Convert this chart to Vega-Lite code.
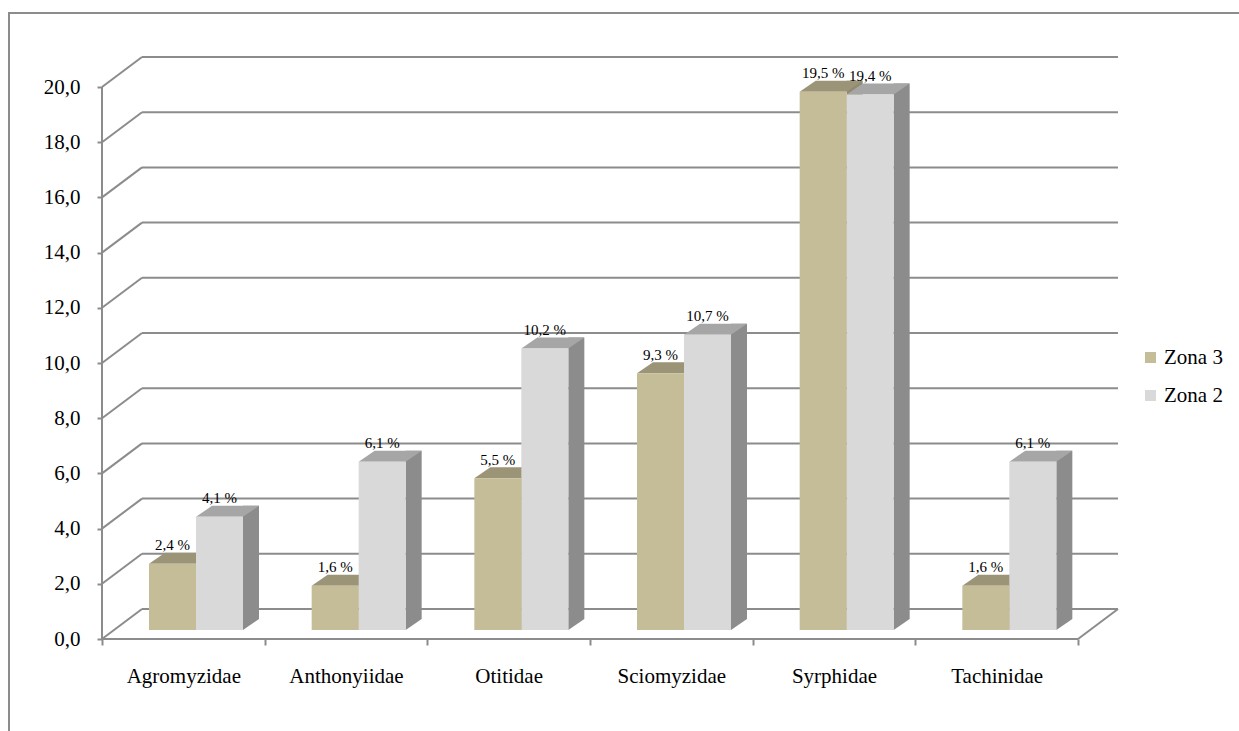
{
  "$schema": "https://vega.github.io/schema/vega-lite/v6.json",
  "width": 1230,
  "height": 718,
  "autosize": {"type": "none"},
  "padding": {"left": 9, "top": 13, "right": 0, "bottom": 0},
  "background": "white",
  "datasets": {
    "bars": [
      {"fam": "Agromyzidae", "zona": "Zona 2", "v": 4.1},
      {"fam": "Anthonyiidae", "zona": "Zona 2", "v": 6.1},
      {"fam": "Otitidae", "zona": "Zona 2", "v": 10.2},
      {"fam": "Sciomyzidae", "zona": "Zona 2", "v": 10.7},
      {"fam": "Syrphidae", "zona": "Zona 2", "v": 19.4},
      {"fam": "Tachinidae", "zona": "Zona 2", "v": 6.1},
      {"fam": "Agromyzidae", "zona": "Zona 3", "v": 2.4},
      {"fam": "Anthonyiidae", "zona": "Zona 3", "v": 1.6},
      {"fam": "Otitidae", "zona": "Zona 3", "v": 5.5},
      {"fam": "Sciomyzidae", "zona": "Zona 3", "v": 9.3},
      {"fam": "Syrphidae", "zona": "Zona 3", "v": 19.5},
      {"fam": "Tachinidae", "zona": "Zona 3", "v": 1.6}
    ],
    "grid": [
      {"g": 0}, {"g": 2}, {"g": 4}, {"g": 6}, {"g": 8}, {"g": 10},
      {"g": 12}, {"g": 14}, {"g": 16}, {"g": 18}, {"g": 20}
    ]
  },
  "layer": [
    {
      "data": {"name": "grid"},
      "mark": {"type": "rule", "color": "#8c8c8c", "strokeWidth": 2, "xOffset": 40, "x2Offset": 40, "yOffset": -30},
      "encoding": {
        "x": {"datum": "Agromyzidae", "type": "nominal", "bandPosition": 0,
              "scale": {"domain": ["Agromyzidae", "Anthonyiidae", "Otitidae", "Sciomyzidae", "Syrphidae", "Tachinidae"], "paddingInner": 0, "paddingOuter": 0.78074, "align": 0.36614},
              "axis": {"orient": "bottom", "offset": -92, "title": null, "domain": false, "tickBand": "extent", "ticks": true, "tickSize": 6, "tickWidth": 2, "tickColor": "#8c8c8c", "labelAngle": 0, "labelFont": "Liberation Serif, Times New Roman, serif", "labelFontSize": 21, "labelColor": "#000000", "labelPadding": 20, "grid": false}},
        "x2": {"datum": "Tachinidae", "bandPosition": 1},
        "y": {"field": "g", "type": "quantitative",
              "scale": {"domain": [-3.3333, 22.6812], "nice": false, "zero": false},
              "axis": {"title": null, "values": [0, 2, 4, 6, 8, 10, 12, 14, 16, 18, 20], "labelExpr": "replace(format(datum.value, '.1f'), '.', ',')", "offset": -93, "domain": false, "grid": false, "tickSize": 5, "tickWidth": 2, "tickColor": "#8c8c8c", "labelFont": "Liberation Serif, Times New Roman, serif", "labelFontSize": 21, "labelColor": "#000000", "labelPadding": 17}}
      }
    },
    {
      "data": {"name": "grid"},
      "mark": {"type": "rule", "color": "#8c8c8c", "strokeWidth": 2, "x2Offset": 40, "y2Offset": -30},
      "encoding": {
        "x": {"datum": "Agromyzidae", "type": "nominal", "bandPosition": 0},
        "x2": {"datum": "Agromyzidae", "bandPosition": 0},
        "y": {"field": "g", "type": "quantitative"},
        "y2": {"field": "g"}
      }
    },
    {
      "data": {"name": "grid"},
      "transform": [{"filter": "datum.g == 0"}],
      "mark": {"type": "rule", "color": "#8c8c8c", "strokeWidth": 2, "x2Offset": 40, "y2Offset": -30},
      "encoding": {
        "x": {"datum": "Tachinidae", "type": "nominal", "bandPosition": 1},
        "x2": {"datum": "Tachinidae", "bandPosition": 1},
        "y": {"field": "g", "type": "quantitative"},
        "y2": {"field": "g"}
      }
    },
    {
      "data": {"name": "grid"},
      "transform": [{"filter": "datum.g == 0"}],
      "mark": {"type": "rule", "color": "#8c8c8c", "strokeWidth": 2},
      "encoding": {
        "x": {"datum": "Agromyzidae", "type": "nominal", "bandPosition": 0},
        "x2": {"datum": "Tachinidae", "bandPosition": 1},
        "y": {"field": "g", "type": "quantitative"}
      }
    },
    {
      "data": {"name": "grid"},
      "transform": [{"filter": "datum.g == 0"}],
      "mark": {"type": "rule", "color": "#8c8c8c", "strokeWidth": 2},
      "encoding": {
        "x": {"datum": "Agromyzidae", "type": "nominal", "bandPosition": 0},
        "y": {"field": "g", "type": "quantitative"},
        "y2": {"datum": 20}
      }
    },
    {
      "data": {"name": "bars"},
      "transform": [{"filter": "datum.zona === 'Zona 2'"}],
      "mark": {"type": "bar", "width": 16, "xOffset": 67.67, "yOffset": -20, "y2Offset": -20, "strokeWidth": 0, "fill": "#8c8c8c"},
      "encoding": {
        "x": {"field": "fam", "type": "nominal"},
        "y": {"field": "v", "type": "quantitative"},
        "y2": {"datum": 0}
      }
    },
    {
      "data": {"name": "bars"},
      "transform": [{"filter": "datum.zona === 'Zona 3'"}],
      "mark": {"type": "bar", "width": 16, "xOffset": 20.67, "yOffset": -20, "y2Offset": -20, "strokeWidth": 0, "fill": "#8f8a6e"},
      "encoding": {
        "x": {"field": "fam", "type": "nominal"},
        "y": {"field": "v", "type": "quantitative"},
        "y2": {"datum": 0}
      }
    },
    {
      "data": {"name": "bars"},
      "mark": {"type": "point", "shape": "M1.46875,0L1.46875,-0.6875L2.46875,-0.6875Z", "size": 1024, "filled": true, "opacity": 1, "strokeWidth": 0, "yOffset": -9},
      "encoding": {
        "x": {"field": "fam", "type": "nominal"},
        "xOffset": {"field": "zona", "type": "nominal", "scale": {"domain": ["Zona 3", "Zona 2"], "paddingInner": 0, "paddingOuter": 0.7305, "align": 0.6845}},
        "y": {"datum": 0, "type": "quantitative"},
        "fill": {"condition": {"test": "datum.zona === 'Zona 3'", "value": "#8f8a6e"}, "value": "#8c8c8c"}
      }
    },
    {
      "data": {"name": "bars"},
      "mark": {"type": "point", "shape": "M-1.46875,0L1.46875,0L2.46875,-0.6875L-0.46875,-0.6875Z", "size": 1024, "filled": true, "opacity": 1, "strokeWidth": 0, "yOffset": -9},
      "encoding": {
        "x": {"field": "fam", "type": "nominal"},
        "xOffset": {"field": "zona", "type": "nominal"},
        "y": {"field": "v", "type": "quantitative"},
        "fill": {"condition": {"test": "datum.zona === 'Zona 3'", "value": "#9b9477"}, "value": "#a6a6a6"}
      }
    },
    {
      "data": {"name": "bars"},
      "mark": {"type": "bar", "yOffset": -9, "y2Offset": -9, "strokeWidth": 0},
      "encoding": {
        "x": {"field": "fam", "type": "nominal"},
        "xOffset": {"field": "zona", "type": "nominal"},
        "y": {"field": "v", "type": "quantitative"},
        "y2": {"datum": 0},
        "color": {"field": "zona", "type": "nominal", "scale": {"domain": ["Zona 3", "Zona 2"], "range": ["#c4bd97", "#d9d9d9"]},
                  "legend": {"title": null, "orient": "none", "legendX": 1131, "legendY": 334, "symbolType": "square", "symbolSize": 121, "symbolStrokeWidth": 0, "labelFont": "Liberation Serif, Times New Roman, serif", "labelFontSize": 21, "labelColor": "#000000", "rowPadding": 16, "labelOffset": 3, "padding": 0}}
      }
    },
    {
      "data": {"name": "bars"},
      "transform": [{"calculate": "replace(format(datum.v, '.1f'), '.', ',') + ' %'", "as": "lbl"}],
      "mark": {"type": "text", "font": "Liberation Serif, Times New Roman, serif", "fontSize": 15, "color": "#000000", "align": "center", "baseline": "alphabetic", "yOffset": -22.5},
      "encoding": {
        "x": {"field": "fam", "type": "nominal"},
        "xOffset": {"field": "zona", "type": "nominal"},
        "y": {"field": "v", "type": "quantitative"},
        "text": {"field": "lbl"}
      }
    }
  ],
  "config": {
    "font": "Liberation Serif, Times New Roman, serif",
    "view": {"stroke": "#8c8c8c", "strokeWidth": 2, "strokeDash": [1230, 1948, 718]}
  }
}
